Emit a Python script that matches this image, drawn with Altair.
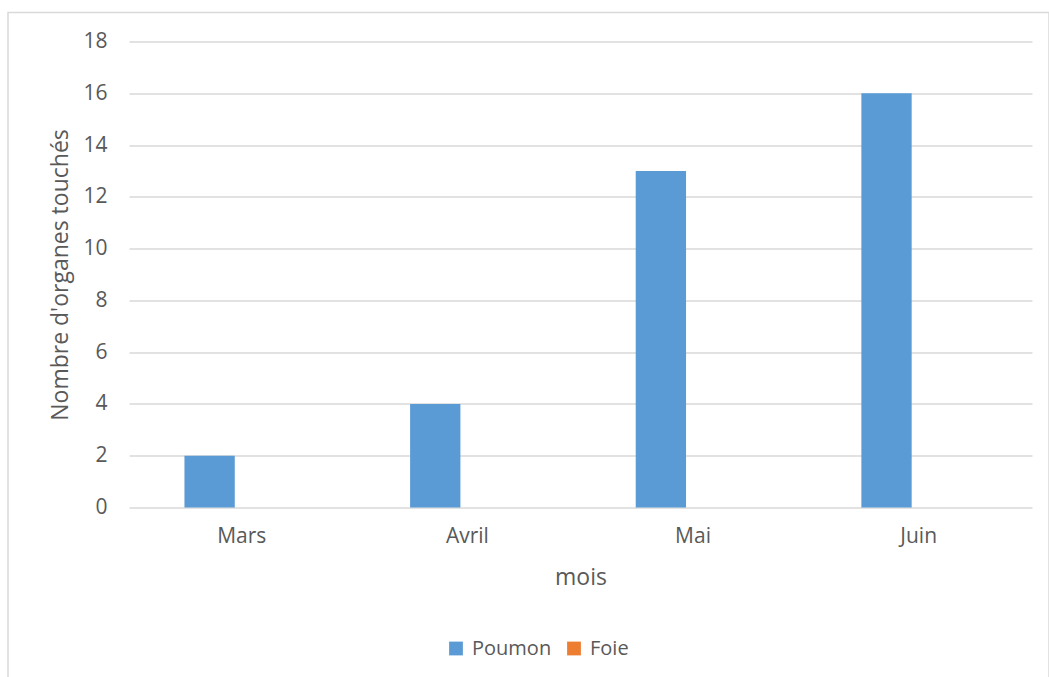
import altair as alt
import pandas as pd

# Monthly counts of affected organs
mois = ["Mars", "Avril", "Mai", "Juin"]
poumon = [2, 4, 13, 16]
foie = [0, 0, 0, 0]
series = ["Poumon", "Foie"]
colors = ["#5B9BD5", "#ED7D31"]

rows = []
for i, m in enumerate(mois):
    rows.append({"mois": m, "organe": "Poumon", "n": poumon[i]})
    rows.append({"mois": m, "organe": "Foie", "n": foie[i]})
df = pd.DataFrame(rows)

FONT = "Open Sans"
TXT = "#595959"
GRID = "#d9d9d9"

bars = alt.Chart(df).mark_bar().encode(
    x=alt.X(
        "mois:N",
        sort=mois,
        scale=alt.Scale(paddingInner=0.554, paddingOuter=0.278, align=0.442),
        axis=alt.Axis(
            title="mois",
            labelAngle=0,
            domain=False,
            ticks=False,
            labelOffset=7,
            labelPadding=18,
            titlePadding=20,
        ),
    ),
    xOffset=alt.XOffset(
        "organe:N",
        sort=series,
        scale=alt.Scale(domain=series, paddingInner=0, paddingOuter=0),
    ),
    y=alt.Y(
        "n:Q",
        scale=alt.Scale(domain=[0, 18], nice=False),
        axis=alt.Axis(
            title="Nombre d'organes touchés",
            values=list(range(0, 19, 2)),
            domain=False,
            ticks=False,
            labelPadding=22,
            titlePadding=10,
            grid=True,
        ),
    ),
    color=alt.Color(
        "organe:N",
        sort=series,
        scale=alt.Scale(domain=series, range=colors),
        legend=alt.Legend(
            title=None,
            orient="none",
            legendX=317,
            legendY=597,
            direction="horizontal",
            symbolType="square",
            symbolSize=190,
            symbolStrokeWidth=0,
            symbolOpacity=1,
            columnPadding=12,
            labelOffset=6,
        ),
    ),
)

# outer chart frame
frame = alt.Chart(pd.DataFrame({"a": [0]})).mark_rect(
    fill=None, stroke=GRID, strokeWidth=1.5
).encode(
    x=alt.value(-121), x2=alt.value(920), y=alt.value(-29), y2=alt.value(640)
)

chart = (
    alt.layer(frame, bars)
    .properties(
        width=903,
        height=466,
        autosize=alt.AutoSizeParams(type="none"),
        padding={"left": 129, "top": 41.5, "right": 17, "bottom": 170},
        background="white",
    )
    .configure_view(stroke=None)
    .configure_axis(
        labelFont=FONT,
        titleFont=FONT,
        labelColor=TXT,
        titleColor=TXT,
        labelFontSize=21,
        titleFontSize=23,
        titleFontWeight="normal",
        gridColor=GRID,
        gridWidth=1.5,
    )
    .configure_legend(labelFont=FONT, labelFontSize=20, labelColor=TXT)
)

chart.save("out.html", embed_options={"renderer": "svg", "actions": False})
